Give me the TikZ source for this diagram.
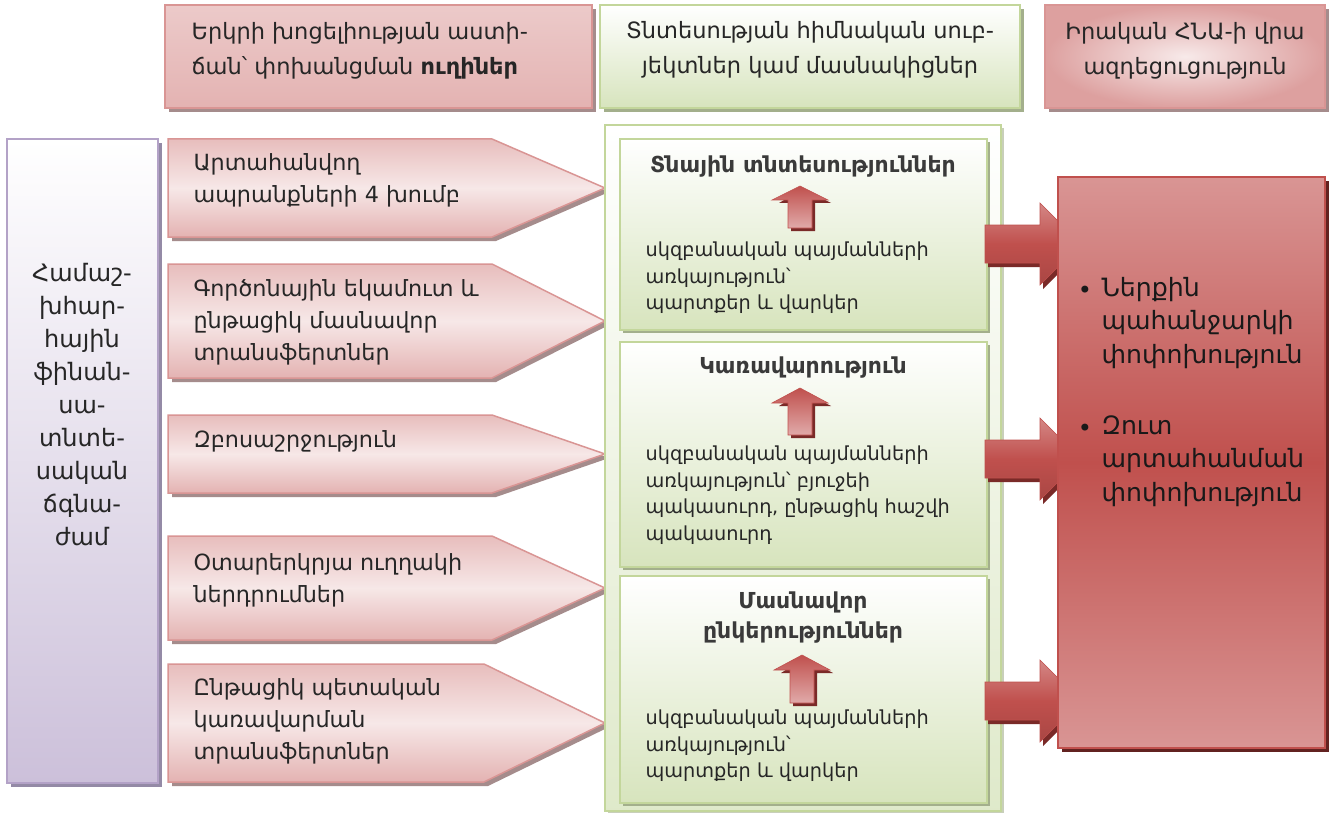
\documentclass[tikz,border=0pt]{standalone}
\usepackage{fontspec}
\setmainfont{DejaVu Sans}
\definecolor{pinkbd}{HTML}{D99594}
\definecolor{pinksh}{HTML}{A58C8C}
\definecolor{greenbd}{HTML}{C3D69B}
\definecolor{greenbot}{HTML}{D7E4BD}
\definecolor{greensh}{HTML}{A3AF8C}
\definecolor{lavbd}{HTML}{B3A2C7}
\definecolor{lavbot}{HTML}{CCC0DA}
\definecolor{lavsh}{HTML}{948AA6}
\definecolor{redmain}{HTML}{C0504D}
\definecolor{redlight}{HTML}{D99594}
\definecolor{redsh}{HTML}{7A2A28}
\definecolor{txt}{HTML}{262626}
\definecolor{ttl}{HTML}{3A3A3A}
\newcommand\pentshape[4]{% top, bottom, corner x, name
  \fill[pinksh] (172,#1+4) -- (#3+4,#1+4) -- (609,{(#1+#2)/2+4}) -- (#3+4,#2+4) -- (172,#2+4) -- cycle;
  \shade[pentfill] (168,#1) -- (#3,#1) -- (605,{(#1+#2)/2}) -- (#3,#2) -- (168,#2) -- cycle;
  \coordinate (#4) at (605,{(#1+#2)/2});
}
\newcommand\uparr[5]{% cx, tip, base, bottom, name
  \fill[redsh] (#1-24+3,#3+3) -- (#1+3,#2+3) -- (#1+28+3,#3+3) -- (#1+12+3,#3+3) -- (#1+12+3,#4+3) -- (#1-12+3,#4+3) -- (#1-12+3,#3+3) -- cycle;
  \shade[top color=redmain, bottom color=redlight!80!white, draw=redmain, line width=0.6] (#1-28,#3) -- (#1,#2) -- (#1+28,#3) -- (#1+12,#3) -- (#1+12,#4) -- (#1-12,#4) -- (#1-12,#3) -- cycle;
  \coordinate (#5) at (#1,#2);
}
\newcommand\rarr[2]{% center y, name
  \fill[redsh] (988,#1-19+4) -- (1043,#1-19+4) -- (1043,#1-41+4) -- (1084,#1+4) -- (1043,#1+41+4) -- (1043,#1+19+4) -- (988,#1+19+4) -- cycle;
  \shade[top color=redlight!80!redmain, bottom color=redmain!88!black, middle color=redmain, draw=redmain, line width=0.6] (985,#1-19) -- (1040,#1-19) -- (1040,#1-41) -- (1081,#1) -- (1040,#1+41) -- (1040,#1+19) -- (985,#1+19) -- cycle;
  \coordinate (#2) at (985,#1);
}
\begin{document}
\begin{tikzpicture}[x=1pt,y=-1pt,
  pentfill/.style={top color=pinkbd!62!white, bottom color=pinkbd!72!white, middle color=pinkbd!22!white, draw=pinkbd, line width=1.5},
  greenbox/.style={top color=white, bottom color=greenbot, draw=greenbd, line width=1.5},
  hdrfont/.style={font=\fontsize{22.5}{35}\selectfont, text=txt},
  pentfont/.style={font=\fontsize{22.3}{32}\selectfont, text=txt, anchor=west, align=left},
  bodyfont/.style={font=\fontsize{19.3}{26.5}\selectfont, text=txt, anchor=west, align=left},
  titlefont/.style={font=\bfseries\fontsize{22}{30}\selectfont, text=ttl, align=center},
  bigfont/.style={font=\fontsize{25.2}{33.5}\selectfont, text=black!90, anchor=west, align=left}]
\useasboundingbox (0,0) rectangle (1330,813);
\fill[white] (0,0) rectangle (1330,813);

% ---- headers
\fill[pinksh] (169,9) rectangle (596,112);
\shade[top color=pinkbd!50!white, bottom color=pinkbd!72!white, draw=pinkbd, line width=1.5] (165,5) rectangle (592,108);
\node[hdrfont, anchor=west, align=left] (h1) at (188,51) {Երկրի խոցելիության աստի-\\ճան՝ փոխանցման \textbf{ուղիներ}};

\fill[greensh] (604,9) rectangle (1024,112);
\shade[greenbox] (600,5) rectangle (1020,108);
\node[hdrfont, align=center, text=black!85] (h2) at (810,50) {Տնտեսության հիմնական սուբ-\\յեկտներ կամ մասնակիցներ};

\fill[pinksh] (1049,9) rectangle (1329,112);
\shade[inner color=pinkbd!20!white, outer color=pinkbd!90!white] (1045,5) rectangle (1325,108);
\draw[pinkbd, line width=1.5] (1045,5) rectangle (1325,108);
\node[hdrfont, align=center, text=black!85] (h3) at (1185,51) {Իրական ՀՆԱ-ի վրա\\ազդեցուցություն};

% ---- left box
\fill[lavsh] (11,143) rectangle (162,787);
\shade[top color=white, bottom color=lavbot, draw=lavbd, line width=1.5] (7,139) rectangle (158,783);
\node[font=\fontsize{24}{33}\selectfont, text=txt, align=center] (left) at (82,405) {Համաշ-\\խհար-\\հային\\ֆինան-\\սա-\\տնտե-\\սական\\ճգնա-\\ժամ};

% ---- pentagons
\pentshape{139}{237}{492}{p1}
\node[pentfont] (t1) at (190,180) {Արտահանվող\\ապրանքների 4 խումբ};
\pentshape{264}{378}{492}{p2}
\node[pentfont] (t2) at (190,322) {Գործոնային եկամուտ և\\ընթացիկ մասնավոր\\տրանսֆերտներ};
\pentshape{415}{493}{492}{p3}
\node[pentfont] (t3) at (190,441) {Զբոսաշրջություն};
\pentshape{536}{640}{492}{p4}
\node[pentfont] (t4) at (190,580) {Օտարերկրյա ուղղակի\\ներդրումներ};
\pentshape{664}{782}{484}{p5}
\node[pentfont] (t5) at (190,721) {Ընթացիկ պետական\\կառավարման\\տրանսֆերտներ};

% ---- middle column
\fill[greensh!60!white] (608,128) rectangle (1004,815);
\shade[top color=white, bottom color=greenbot!80!white, draw=greenbd, line width=1.5] (605,125) rectangle (1001,811);

\fill[greensh] (623,142) rectangle (990,333);
\shade[greenbox] (620,139) rectangle (987,330);
\node[titlefont] (m1) at (803,167) {Տնային տնտեսություններ};
\uparr{800}{186}{200}{228}{a1}
\node[bodyfont] (b1) at (642,278) {սկզբանական պայմանների\\առկայություն՝\\պարտքեր և վարկեր};

\fill[greensh] (623,345) rectangle (990,570);
\shade[greenbox] (620,342) rectangle (987,567);
\node[titlefont] (m2) at (803,368) {Կառավարություն};
\uparr{800}{388}{403}{435}{a2}
\node[bodyfont] (b2) at (642,495) {սկզբանական պայմանների\\առկայություն՝ բյուջեի\\պակասուրդ, ընթացիկ հաշվի\\պակասուրդ};

\fill[greensh] (623,579) rectangle (990,806);
\shade[greenbox] (620,576) rectangle (987,803);
\node[titlefont] (m3) at (803,618) {Մասնավոր\\ընկերություններ};
\uparr{802}{655}{670}{703}{a3}
\node[bodyfont] (b3) at (642,746) {սկզբանական պայմանների\\առկայություն՝\\պարտքեր և վարկեր};

% ---- big arrows
\rarr{244}{r1}
\rarr{459}{r2}
\rarr{701}{r3}

% ---- right box
\fill[redsh!80!black] (1062,181) rectangle (1329,752);
\shade[top color=redlight, bottom color=redlight, middle color=redmain, draw=redmain, line width=1.5] (1058,177) rectangle (1325,748);
\node[bigfont] (e1) at (1098,323) {Ներքին\\պահանջարկի\\փոփոխություն};
\node[font=\fontsize{24}{33}\selectfont, text=black!90] (d1) at (1085,292) {•};
\node[bigfont] (e2) at (1098,461) {Զուտ\\արտահանման\\փոփոխություն};
\node[font=\fontsize{24}{33}\selectfont, text=black!90] (d2) at (1085,430) {•};
\end{tikzpicture}
\end{document}
